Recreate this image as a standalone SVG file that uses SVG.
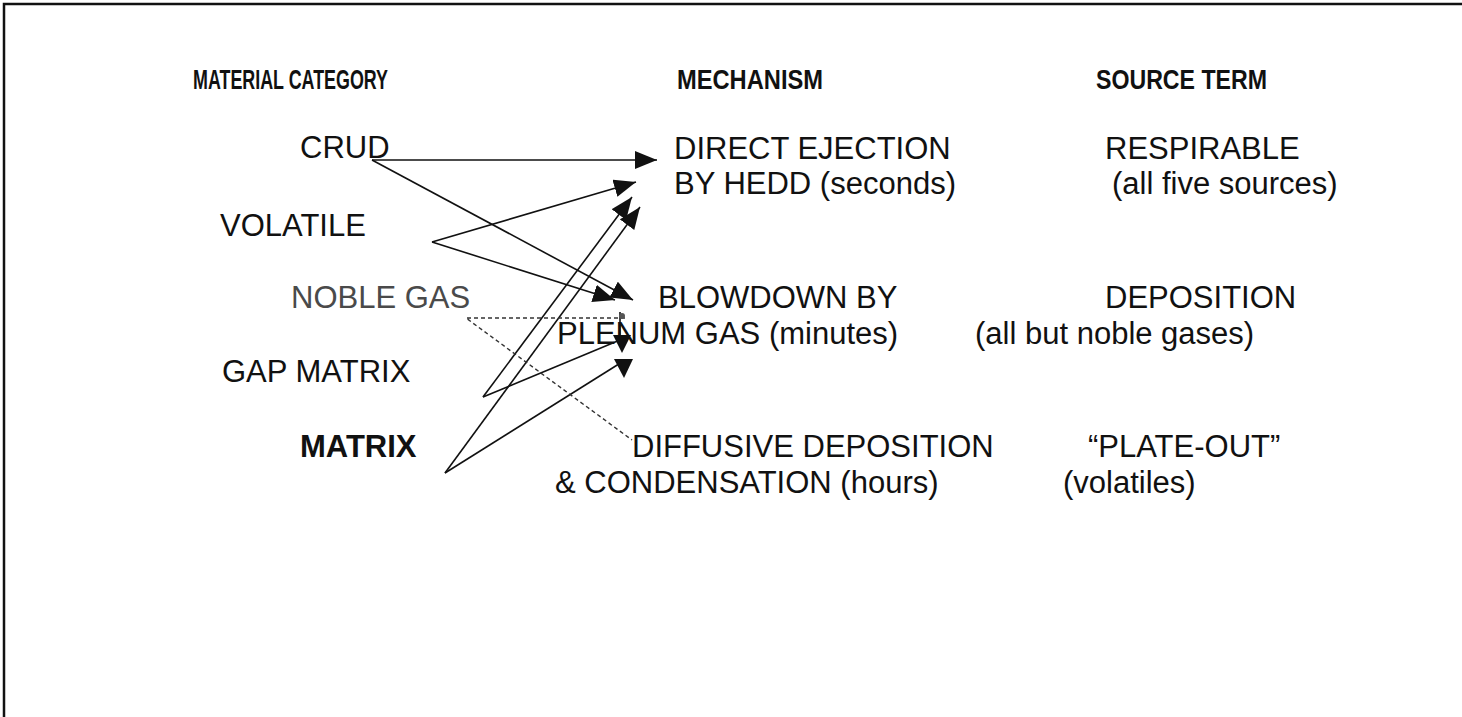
<svg xmlns="http://www.w3.org/2000/svg" width="1462" height="717" viewBox="0 0 1462 717">
<style>
.t{font-family:"Liberation Sans",Arial,sans-serif;font-size:31px;fill:#111}
.h{font-family:"Liberation Sans",Arial,sans-serif;font-size:27px;font-weight:bold;fill:#111}
.b{font-weight:bold}
.c{stroke:#111;stroke-width:1.6;fill:none}
.d{stroke:#333;stroke-width:1.4;fill:none;stroke-dasharray:4 3}
.ah{fill:#111}
</style>
<defs>
<marker id="arr" markerUnits="userSpaceOnUse" markerWidth="24" markerHeight="20" refX="22" refY="9" orient="auto">
<path d="M0,0 L22,9 L0,18 z" fill="#111"/>
</marker>
</defs>
<rect width="1462" height="717" fill="#fff"/>
<g id="frame" stroke="#111" stroke-width="2.5" fill="none">
<path d="M4,717 L4,4 L1462,4"/>
</g>
<g id="headers">
<text class="h" x="193" y="89" textLength="195" lengthAdjust="spacingAndGlyphs">MATERIAL CATEGORY</text>
<text class="h" x="677" y="89" textLength="146" lengthAdjust="spacingAndGlyphs">MECHANISM</text>
<text class="h" x="1096" y="89" textLength="171" lengthAdjust="spacingAndGlyphs">SOURCE TERM</text>
</g>
<g id="connectors">
<line class="c" x1="372" y1="160" x2="657" y2="160" marker-end="url(#arr)"/>
<line class="c" x1="372" y1="160" x2="633" y2="300" marker-end="url(#arr)"/>
<line class="c" x1="432" y1="242" x2="615" y2="300" marker-end="url(#arr)"/>
<line class="c" x1="432" y1="242" x2="636" y2="182" marker-end="url(#arr)"/>
<line class="c" x1="483" y1="397" x2="620" y2="340"/>
<line class="c" x1="483" y1="397" x2="632" y2="197" marker-end="url(#arr)"/>
<line class="c" x1="445" y1="473" x2="622" y2="362"/>
<line class="c" x1="445" y1="473" x2="640" y2="207" marker-end="url(#arr)"/>
<polygon class="ah" points="613,335 631,335 622,353"/>
<polygon class="ah" points="614,359 633,359 624,378"/>
<line class="c" x1="620" y1="312" x2="620" y2="336"/>
<polyline class="d" points="625,318 466,318 632,440"/>
<circle cx="622" cy="316" r="3" fill="#555"/>
</g>
<g id="material">
<g id="n-crud"><text class="t" x="300" y="158">CRUD</text></g>
<g id="n-volatile"><text class="t" x="220" y="236">VOLATILE</text></g>
<g id="n-noble"><text class="t" x="291" y="308" style="fill:#4a4a4a">NOBLE GAS</text></g>
<g id="n-gap"><text class="t" x="222" y="382">GAP MATRIX</text></g>
<g id="n-matrix"><text class="t b" x="300" y="457">MATRIX</text></g>
</g>
<g id="mechanism">
<g id="n-direct"><text class="t" x="674" y="159">DIRECT EJECTION</text><text class="t" x="674" y="194">BY HEDD (seconds)</text></g>
<g id="n-blowdown"><text class="t" x="658" y="308">BLOWDOWN BY</text><text class="t" x="557" y="344">PLENUM GAS (minutes)</text></g>
<g id="n-diffusive"><text class="t" x="632" y="457">DIFFUSIVE DEPOSITION</text><text class="t" x="555" y="493">&amp; CONDENSATION (hours)</text></g>
</g>
<g id="source">
<g id="n-respirable"><text class="t" x="1105" y="159">RESPIRABLE</text><text class="t" x="1112" y="194">(all five sources)</text></g>
<g id="n-deposition"><text class="t" x="1105" y="308">DEPOSITION</text><text class="t" x="975" y="344">(all but noble gases)</text></g>
<g id="n-plateout"><text class="t" x="1088" y="457">“PLATE-OUT”</text><text class="t" x="1063" y="493">(volatiles)</text></g>
</g>
</svg>
